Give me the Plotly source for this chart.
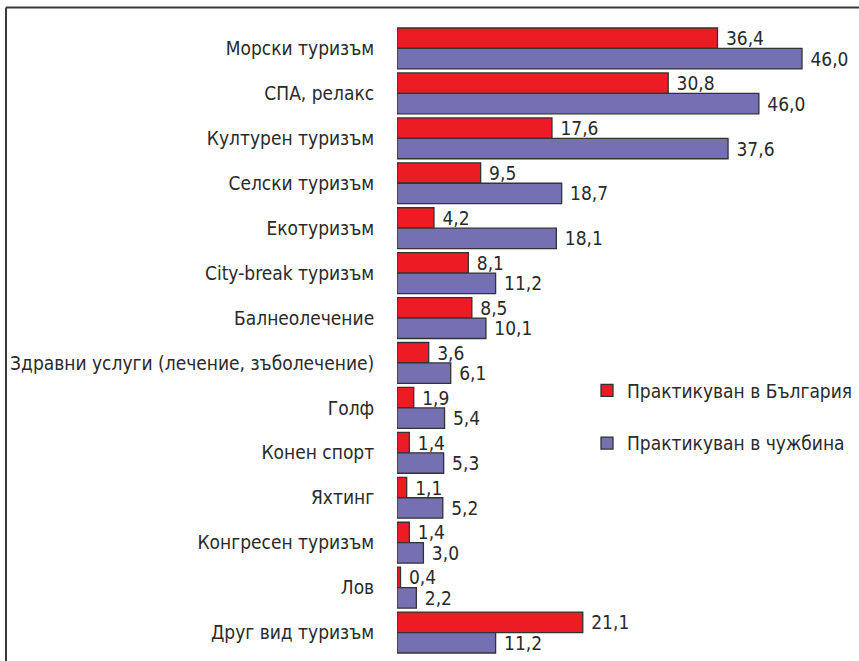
import plotly.graph_objects as go

categories = ["Морски туризъм", "СПА, релакс", "Културен туризъм", "Селски туризъм",
              "Екотуризъм", "City-break туризъм", "Балнеолечение",
              "Здравни услуги (лечение, зъболечение)", "Голф", "Конен спорт",
              "Яхтинг", "Конгресен туризъм", "Лов", "Друг вид туризъм"]
bulgaria = [36.4, 30.8, 17.6, 9.5, 4.2, 8.1, 8.5, 3.6, 1.9, 1.4, 1.1, 1.4, 0.4, 21.1]
# bar lengths as drawn in the picture (the СПА bar is drawn shorter than its label)
abroad = [46.0, 41.1, 37.6, 18.7, 18.1, 11.2, 10.1, 6.1, 5.4, 5.3, 5.2, 3.0, 2.2, 11.2]
# value labels as printed in the picture
bulgaria_labels = ["36,4", "30,8", "17,6", "9,5", "4,2", "8,1", "8,5", "3,6", "1,9", "1,4",
                   "1,1", "1,4", "0,4", "21,1"]
abroad_labels = ["46,0", "46,0", "37,6", "18,7", "18,1", "11,2", "10,1", "6,1", "5,4", "5,3",
                 "5,2", "3,0", "2,2", "11,2"]
series_names = ["Практикуван в България", "Практикуван в чужбина"]

W, H = 859, 661
ML, MR, MT, MB = 397, 9, 26, 6
PW, PH = W - ML - MR, H - MT - MB
FONT = "DejaVu Sans Condensed, DejaVu Sans, sans-serif"
FS = 19
TXT = "#2a2a2a"
EDGE = "#333333"


def px2x(px):
    return (px - ML) / PW


def px2y(py):
    return 1 - (py - MT) / PH


fig = go.Figure()
for name, vals, labels, col, grp in [(series_names[0], bulgaria, bulgaria_labels, "#ED1C24", "a"),
                                     (series_names[1], abroad, abroad_labels, "#7470B2", "b")]:
    fig.add_trace(go.Bar(
        y=categories, x=vals, orientation="h", name=name, legendgroup=grp,
        marker=dict(color=col, line=dict(color=EDGE, width=1.3)),
        text=["\u00a0" + t for t in labels], textposition="outside", textangle=0,
        constraintext="none", cliponaxis=False, hoverinfo="y+text",
        outsidetextfont=dict(family=FONT, size=FS, color=TXT),
    ))

fig.update_layout(
    width=W, height=H, autosize=False,
    margin=dict(l=ML, r=MR, t=MT, b=MB, pad=0, autoexpand=False),
    paper_bgcolor="white", plot_bgcolor="white",
    barmode="group", bargap=0.09, bargroupgap=0,
    font=dict(family=FONT, size=FS, color=TXT),
    xaxis=dict(range=[0, 51.45], visible=False, showgrid=False, zeroline=False,
               fixedrange=True, automargin=False),
    yaxis=dict(autorange="reversed", showgrid=False, zeroline=False, showline=False,
               automargin=False,
               ticks="outside", ticklen=18, tickcolor="rgba(0,0,0,0)",
               tickfont=dict(family=FONT, size=FS, color=TXT)),
    legend=dict(x=px2x(587), xanchor="left", y=px2y(417), yanchor="middle",
                font=dict(family=FONT, size=FS, color=TXT),
                tracegroupgap=25, bgcolor="rgba(0,0,0,0)"),
    showlegend=True,
    shapes=[
        dict(type="line", xref="paper", yref="paper", x0=px2x(6), x1=px2x(870),
             y0=px2y(7.5), y1=px2y(7.5), line=dict(color="#3a3a3a", width=2)),
        dict(type="line", xref="paper", yref="paper", x0=px2x(6), x1=px2x(6),
             y0=px2y(7.5), y1=px2y(680), line=dict(color="#3a3a3a", width=2)),
    ],
)

fig.write_html("out.html",
               config={"displayModeBar": False},
               post_script="document.body.style.margin='0';document.body.style.overflow='hidden';")
